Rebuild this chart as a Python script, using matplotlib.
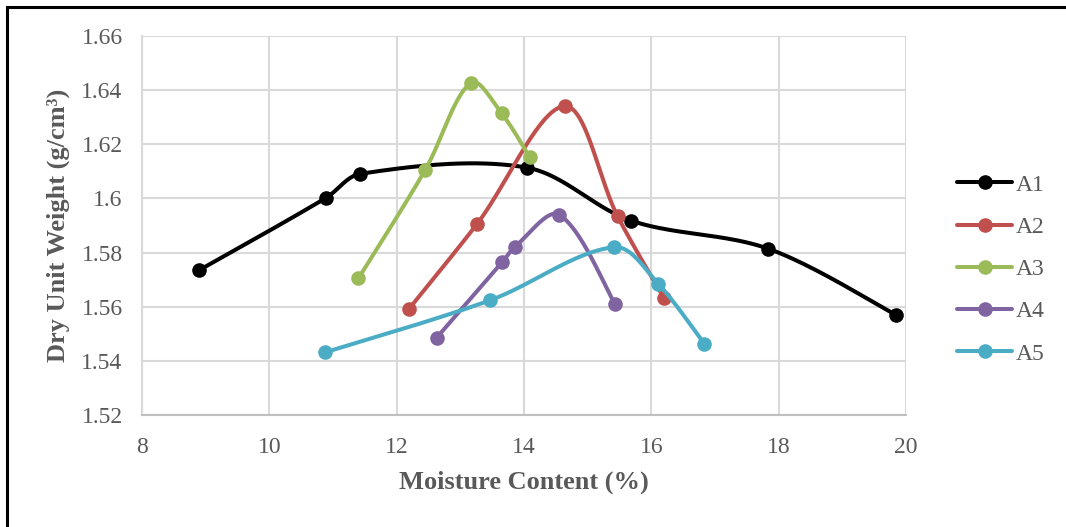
import numpy as np
import matplotlib
matplotlib.use("Agg")
import matplotlib.pyplot as plt
from matplotlib.lines import Line2D
from matplotlib.patches import Rectangle

# Compaction test results: moisture content (%) vs dry unit weight (g/cm3)
series_names = ["A1", "A2", "A3", "A4", "A5"]
a1_moisture = [8.89, 10.89, 11.43, 14.04, 15.68, 17.84, 19.84]
a1_density = [1.5734, 1.6002, 1.6091, 1.6114, 1.5918, 1.5814, 1.5570]
a2_moisture = [12.19, 13.26, 14.64, 15.47, 16.20]
a2_density = [1.5591, 1.5905, 1.6341, 1.5934, 1.5631]
a3_moisture = [11.40, 12.45, 13.17, 13.65, 14.09]
a3_density = [1.5705, 1.6106, 1.6428, 1.6314, 1.6152]
a4_moisture = [12.63, 13.66, 13.86, 14.55, 15.43]
a4_density = [1.5486, 1.5765, 1.5822, 1.5940, 1.5610]
a5_moisture = [10.87, 13.47, 15.42, 16.11, 16.83]
a5_density = [1.5431, 1.5624, 1.5820, 1.5684, 1.5464]

series_colors = ["#000000", "#C0504D", "#9BBB59", "#8064A2", "#4BACC6"]
x_ticks = [8, 10, 12, 14, 16, 18, 20]
y_ticks = [1.52, 1.54, 1.56, 1.58, 1.60, 1.62, 1.64, 1.66]
y_tick_labels = ["1.52", "1.54", "1.56", "1.58", "1.6", "1.62", "1.64", "1.66"]

W, H = 1066, 527
AX_LEFT, AX_RIGHT, AX_TOP, AX_BOTTOM = 142, 906, 36, 415
X_RANGE = (8, 20)
Y_RANGE = (1.52, 1.66)
# pixel scale of each data unit, used so the smoothing follows on-screen distances
SX = (AX_RIGHT - AX_LEFT) / (X_RANGE[1] - X_RANGE[0])
SY = (AX_BOTTOM - AX_TOP) / (Y_RANGE[1] - Y_RANGE[0])


def smooth_curve(xs, ys, n=40):
    """Cubic Bezier smoothing through every point, tangents scaled by chord length."""
    pts = np.column_stack([np.asarray(xs) * SX, np.asarray(ys) * SY]).astype(float)
    m = len(pts)
    d = np.hypot(*np.diff(pts, axis=0).T)
    out = [pts[0]]
    t = np.linspace(0, 1, n)[1:, None]
    for i in range(m - 1):
        p1, p2 = pts[i], pts[i + 1]
        if i > 0:
            tan1 = pts[i + 1] - pts[i - 1]
            c1 = p1 + tan1 * d[i] / (d[i - 1] + d[i]) / 3.0
        else:
            c1 = p1 + (p2 - p1) / 6.0
        if i + 2 < m:
            tan2 = pts[i + 2] - pts[i]
            c2 = p2 - tan2 * d[i] / (d[i] + d[i + 1]) / 3.0
        else:
            c2 = p2 - (p2 - p1) / 6.0
        seg = ((1 - t) ** 3) * p1 + 3 * ((1 - t) ** 2) * t * c1 \
            + 3 * (1 - t) * (t ** 2) * c2 + (t ** 3) * p2
        out.extend(seg)
    out = np.array(out)
    return out[:, 0] / SX, out[:, 1] / SY


plt.rcParams["font.family"] = ["Liberation Serif", "DejaVu Serif"]
fig = plt.figure(figsize=(W / 100, H / 100), dpi=100)
ax = fig.add_axes([AX_LEFT / W, 1 - AX_BOTTOM / H,
                   (AX_RIGHT - AX_LEFT) / W, (AX_BOTTOM - AX_TOP) / H])

text_grey = "#595959"
grid_grey = "#D9D9D9"

data = [
    (a1_moisture, a1_density),
    (a2_moisture, a2_density),
    (a3_moisture, a3_density),
    (a4_moisture, a4_density),
    (a5_moisture, a5_density),
]

LW, MS = 2.9, 10.5
handles = []
for k, ((xs, ys), col) in enumerate(zip(data, series_colors)):
    cx, cy = smooth_curve(xs, ys)
    ax.plot(cx, cy, color=col, lw=LW, zorder=3 + k, solid_capstyle="round")
    ax.plot(xs, ys, "o", color=col, ms=MS, zorder=3 + k, markeredgewidth=0)
    handles.append(Line2D([], [], color=col, lw=LW, marker="o", ms=MS,
                          markeredgewidth=0, solid_capstyle="round"))

ax.set_xlim(*X_RANGE)
ax.set_ylim(*Y_RANGE)
ax.set_xticks(x_ticks)
ax.set_xticklabels([str(v) for v in x_ticks])
ax.set_yticks(y_ticks)
ax.set_yticklabels(y_tick_labels)
ax.grid(True, color=grid_grey, lw=1.5, zorder=0)
ax.set_axisbelow(True)
ax.tick_params(length=0, labelsize=17, colors=text_grey)
ax.tick_params(axis="x", pad=16)
ax.tick_params(axis="y", pad=14)

for side in ["top", "right"]:
    ax.spines[side].set_visible(False)
ax.spines["left"].set_color(grid_grey)
ax.spines["left"].set_linewidth(1.5)
ax.spines["bottom"].set_color("#BFBFBF")
ax.spines["bottom"].set_linewidth(1.5)

ax.set_xlabel("Moisture Content (%)", fontsize=19, fontweight="bold",
              color=text_grey)
ax.set_ylabel("Dry Unit Weight (g/cm³)", fontsize=19, fontweight="bold",
              color=text_grey)
ax.xaxis.set_label_coords(0.5, (AX_BOTTOM - 482) / (AX_BOTTOM - AX_TOP))
ax.xaxis.label.set_va("center")
ax.yaxis.set_label_coords((58 - AX_LEFT) / (AX_RIGHT - AX_LEFT), 0.5)
ax.yaxis.label.set_va("center")

leg = fig.legend(handles, series_names, loc="upper left",
                 bbox_to_anchor=(957 / W, 1 - 174 / H),
                 frameon=False, fontsize=17, handlelength=2.35,
                 handletextpad=0.15, labelspacing=0.88,
                 labelcolor=text_grey, borderaxespad=0, borderpad=0)

# outer chart border (left and top edges visible)
fig.add_artist(Rectangle((7 / W, -0.5), 2.0, (1 - 7 / H) + 0.5,
                         transform=fig.transFigure, fill=False,
                         edgecolor="black", lw=2.2))

fig.savefig("out.png", dpi=100, facecolor="white")
